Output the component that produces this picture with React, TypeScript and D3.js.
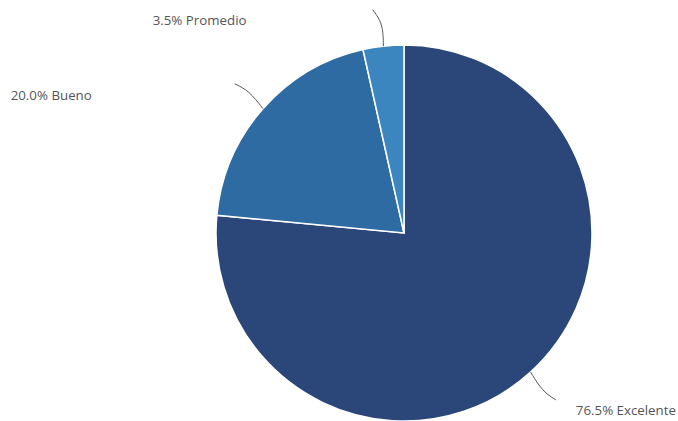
import React from "react";
import * as d3 from "d3";

const categories = ["Excelente", "Bueno", "Promedio"];
const values = [76.5, 20.0, 3.5];
const colors = ["#2b477a", "#2f6ba3", "#3b86bf"];

const W = 678;
const H = 421;
const cx = 404;
const cy = 233;
const R = 188;

export default function App() {
  const pie = d3.pie<number>().sort(null).value((d) => d);
  const arcs = pie(values);
  const arc = d3.arc<d3.PieArcDatum<number>>().innerRadius(0).outerRadius(R);
  const pt = (a: number, r: number): [number, number] => [Math.sin(a) * r, -Math.cos(a) * r];
  const line = d3.line().curve(d3.curveBasis);

  // label placement offsets relative to leader end (text layout only)
  const labelDx = [20, -143, -126];
  const labelDy = [15, 16, 15];
  const anchors = ["start", "end", "end"];

  return (
    <svg width={W} height={H} style={{ position: "absolute", left: 0, top: 0, background: "#fff" }}>
      <g transform={`translate(${cx},${cy})`}>
        {arcs.map((a, i) => (
          <path key={i} d={arc(a) || ""} fill={colors[i]} stroke="#fff" strokeWidth={1.5} />
        ))}
        {arcs.map((a, i) => {
          const m = (a.startAngle + a.endAngle) / 2;
          const p0 = pt(m, R);
          const p1 = pt(m + (i === 2 ? 0.01 : 0.02), R * 1.12);
          const p2 = pt(m + (i === 2 ? -0.03 : 0.0), R * 1.2);
          return (
            <g key={i}>
              <path d={line([p0, p1, p2]) || ""} fill="none" stroke="#555" strokeWidth={1} />
              <text
                x={p2[0] + labelDx[i]}
                y={p2[1] + labelDy[i]}
                textAnchor={anchors[i]}
                fontFamily="Open Sans, sans-serif"
                fontSize={13.3}
                fontWeight={500}
                fill="#555"
              >
                {`${values[i].toFixed(1)}% ${categories[i]}`}
              </text>
            </g>
          );
        })}
      </g>
    </svg>
  );
}
